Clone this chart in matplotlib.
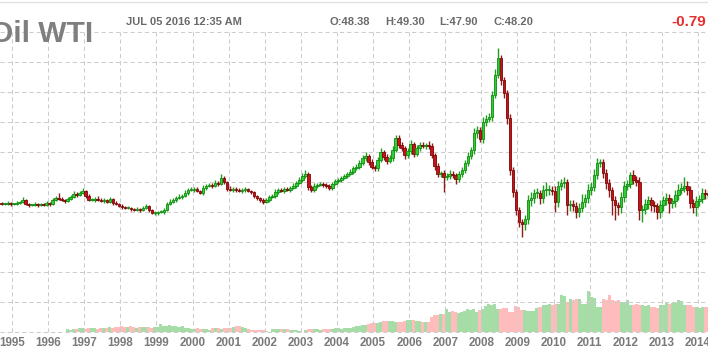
import matplotlib
matplotlib.use("Agg")
import matplotlib.pyplot as plt
from matplotlib.lines import Line2D
from matplotlib.transforms import blended_transform_factory
import numpy as np

plt.rcParams['font.family'] = ['Liberation Sans', 'DejaVu Sans']
plt.rcParams['lines.scale_dashes'] = False

# ---------------- data ----------------
title = "Oil WTI"
stamp = "JUL 05 2016 12:35 AM"
quote_labels = ["O:48.38", "H:49.30", "L:47.90", "C:48.20"]
change_label = "-0.79"
years = list(range(1995, 2015))
first_month = (1994, 9)       # first monthly candle: Sep 1994
first_open = 129

# monthly closes (chart units)
close = [
    128, 128, 129, 128, 128, 129, 130, 132, 128, 127,
    127, 128, 127, 128, 127, 129, 128, 132, 134, 133,
    132, 131, 133, 135, 138, 137, 139, 141, 136, 132,
    132, 133, 132, 131, 132, 130, 133, 129, 128, 126,
    125, 124, 124, 123, 122, 123, 122, 124, 126, 122,
    119, 119, 120, 120, 122, 128, 130, 132, 134, 135,
    136, 139, 142, 142, 143, 141, 139, 144, 146, 147,
    146, 149, 148, 154, 150, 143, 142, 143, 142, 141,
    142, 143, 141, 140, 136, 134, 132, 130, 132, 135,
    136, 140, 142, 141, 143, 142, 144, 146, 149, 152,
    156, 158, 145, 142, 146, 147, 148, 147, 146, 144,
    148, 151, 152, 154, 156, 158, 160, 164, 165, 169,
    174, 176, 170, 165, 164, 172, 180, 175, 171, 174,
    182, 194, 187, 184, 177, 181, 188, 178, 184, 187,
    186, 187, 186, 177, 166, 158, 159, 155, 156, 158,
    157, 153, 158, 162, 169, 176, 182, 199, 202, 193,
    210, 213, 215, 237, 257, 274, 252, 239, 214, 162,
    140, 122, 110, 108, 113, 132, 134, 139, 139, 134,
    142, 142, 142, 141, 130, 146, 149, 150, 127, 128,
    126, 120, 124, 130, 134, 142, 145, 157, 169, 170,
    159, 149, 142, 132, 127, 125, 135, 146, 148, 157,
    152, 150, 122, 123, 128, 132, 127, 126, 120, 127,
    132, 134, 129, 131, 137, 142, 144, 146, 142, 129,
    125, 131, 133, 139, 138, 137,
]

# upper / lower shadow lengths (chart units)
wick_up = [
    1, 1, 2, 1, 1, 2, 1, 3, 1, 1,
    1, 2, 1, 1, 1, 2, 1, 2, 2, 5,
    2, 1, 2, 2, 3, 2, 2, 3, 1, 2,
    2, 2, 3, 2, 2, 1, 2, 1, 2, 1,
    2, 1, 2, 1, 1, 2, 1, 2, 2, 1,
    1, 2, 1, 2, 2, 2, 3, 2, 2, 3,
    2, 3, 2, 3, 2, 2, 1, 3, 2, 2,
    2, 3, 2, 4, 2, 1, 3, 2, 2, 2,
    2, 2, 1, 1, 1, 1, 1, 2, 2, 2,
    2, 3, 2, 2, 2, 2, 2, 3, 2, 3,
    3, 4, 2, 2, 3, 2, 2, 2, 2, 2,
    2, 2, 2, 2, 2, 2, 3, 2, 3, 3,
    3, 4, 2, 3, 2, 3, 4, 2, 3, 3,
    4, 3, 3, 3, 2, 3, 4, 2, 3, 3,
    3, 2, 4, 3, 2, 3, 2, 3, 3, 4,
    3, 2, 3, 3, 3, 4, 3, 5, 4, 3,
    5, 4, 4, 4, 6, 10, 3, 3, 3, 4,
    3, 3, 3, 3, 4, 5, 6, 4, 5, 3,
    5, 8, 5, 4, 5, 5, 4, 5, 3, 4,
    4, 4, 5, 8, 4, 6, 5, 6, 5, 3,
    3, 4, 4, 3, 4, 3, 5, 5, 4, 3,
    5, 4, 5, 4, 5, 4, 3, 4, 3, 5,
    4, 5, 4, 3, 5, 6, 5, 9, 5, 4,
    4, 5, 4, 5, 4, 4,
]
wick_dn = [
    1, 1, 1, 2, 1, 1, 1, 1, 1, 2,
    1, 1, 2, 1, 1, 1, 2, 1, 1, 1,
    1, 2, 1, 1, 1, 2, 1, 1, 2, 1,
    1, 2, 1, 1, 2, 1, 1, 2, 1, 1,
    2, 1, 1, 2, 1, 1, 2, 1, 1, 2,
    1, 2, 2, 1, 2, 1, 1, 1, 2, 1,
    2, 1, 2, 1, 2, 1, 1, 2, 2, 1,
    2, 1, 2, 1, 2, 2, 1, 2, 2, 1,
    2, 2, 1, 2, 2, 2, 2, 2, 1, 2,
    1, 2, 2, 1, 2, 1, 2, 1, 2, 1,
    2, 2, 3, 2, 2, 2, 1, 2, 2, 2,
    2, 1, 2, 2, 1, 2, 1, 2, 2, 2,
    2, 3, 3, 2, 3, 3, 2, 3, 3, 2,
    3, 2, 3, 3, 4, 3, 3, 3, 2, 3,
    2, 3, 3, 3, 4, 3, 3, 15, 3, 3,
    3, 5, 3, 3, 3, 3, 3, 4, 5, 3,
    4, 4, 3, 4, 3, 3, 5, 5, 6, 5,
    5, 5, 5, 13, 6, 5, 6, 5, 5, 6,
    5, 6, 5, 4, 10, 5, 4, 5, 10, 6,
    5, 6, 5, 4, 5, 5, 5, 4, 4, 4,
    5, 6, 7, 15, 15, 8, 6, 5, 4, 4,
    4, 4, 10, 12, 5, 5, 6, 6, 7, 6,
    6, 5, 10, 5, 6, 5, 4, 4, 5, 5,
    6, 9, 5, 4, 5, 4,
]

# monthly volume (relative units)
volume = [
    0, 0, 0, 0, 0, 0, 0, 0, 0, 0,
    0, 0, 0, 0, 0, 0, 0, 0, 0, 0,
    0, 0, 3, 2, 3, 3, 4, 4, 3, 4,
    4, 4, 3, 4, 4, 4, 5, 4, 5, 5,
    6, 5, 5, 6, 5, 4, 5, 5, 5, 5,
    4, 5, 5, 8, 6, 6, 7, 6, 6, 5,
    6, 4, 4, 3, 3, 4, 3, 3, 3, 2,
    4, 4, 4, 3, 4, 4, 4, 5, 6, 6,
    5, 4, 3, 2, 2, 2, 2, 2, 1, 0,
    3, 3, 3, 3, 3, 3, 2, 2, 2, 1,
    0, 2, 3, 3, 3, 3, 2, 3, 3, 3,
    3, 4, 4, 3, 4, 4, 4, 5, 6, 6,
    7, 7, 8, 9, 9, 9, 10, 11, 11, 11,
    11, 10, 10, 10, 11, 12, 12, 12, 11, 11,
    10, 10, 10, 15, 17, 17, 18, 18, 23, 20,
    21, 20, 19, 20, 21, 23, 22, 23, 20, 22,
    23, 26, 28, 27, 28, 23, 23, 24, 24, 20,
    20, 26, 25, 22, 22, 21, 21, 21, 24, 25,
    27, 27, 28, 27, 28, 28, 37, 36, 30, 33,
    32, 33, 33, 28, 28, 41, 35, 34, 25, 25,
    33, 32, 37, 32, 31, 32, 30, 30, 32, 27,
    27, 28, 27, 27, 26, 27, 25, 25, 24, 27,
    27, 29, 28, 29, 29, 32, 31, 27, 27, 27,
    25, 25, 24, 25, 25, 25,
]

# ---------------- derived ----------------
close = np.array(close, float)
n = len(close)
opens = np.concatenate([[first_open], close[:-1]])
wu = np.array(wick_up[:n], float)
wd = np.array(wick_dn[:n], float)
vol = np.array(volume[:n], float)
idx = np.arange(n)
up = close >= opens
top = np.maximum(opens, close)
bot = np.minimum(opens, close)
highs = top + wu
lows = bot - wd
body_h = np.maximum(top - bot, 1.5)

UP_BODY, UP_EDGE = '#2fcf2f', '#138a13'
DN_BODY, DN_EDGE = '#cc1018', '#7a0808'
UP_WICK, DN_WICK = '#1f9e1f', '#8e1a1a'
UP_VOL, DN_VOL = '#a6dca6', '#ffbcbc'
GRID = '#cccccc'

W, H = 708, 354
fig = plt.figure(figsize=(W / 100, H / 100), dpi=100)
fig.patch.set_facecolor('white')

# axes spanning pixel rows 30..334
rect = [0, 1 - 334 / H, 1, 304 / H]
axv = fig.add_axes(rect)
ax = fig.add_axes(rect)
px_per_month = 36.1 / 12
xlim = (-0.5, -0.5 + W / px_per_month)
for a in (axv, ax):
    a.set_xlim(*xlim)
    a.set_ylim(-2, 302)
    a.axis('off')
ax.patch.set_alpha(0)

# volume
axv.bar(idx, vol, width=1.0, bottom=0,
        color=np.where(up, UP_VOL, DN_VOL), linewidth=0, zorder=1)

# grid
dash = (0, (3, 2.2))
for gv in range(0, 301, 30):
    ax.plot(xlim, [gv, gv], color=GRID, lw=0.75, ls=dash, zorder=1)
year_pos = [3.5 + 12 * (y - 1995) for y in years]
for xp in year_pos:
    ax.plot([xp, xp], [0, 300], color=GRID, lw=0.75, ls=dash, zorder=1)

# candles
ax.vlines(idx, lows, highs, colors=np.where(up, UP_WICK, DN_WICK),
          linewidth=1.0, zorder=3)
ax.bar(idx, body_h, bottom=bot, width=0.85,
       color=np.where(up, UP_BODY, DN_BODY),
       edgecolor=np.where(up, UP_EDGE, DN_EDGE), linewidth=0.6, zorder=4)

# year labels
tr = blended_transform_factory(ax.transData, fig.transFigure)
for y, xp in zip(years, year_pos):
    ax.text(xp, 1 - 346.5 / H, str(y), transform=tr, ha='center',
            va='baseline', fontsize=8.4, fontweight='bold', color='#7a7a7a',
            clip_on=False)

# header
fig.add_artist(Line2D([0, 1], [1 - 1.5 / H, 1 - 1.5 / H], color='#e2e2e2', lw=1))
fig.text(-10 / W, 1 - 41.7 / H, title, ha='left', va='baseline',
         fontsize=21.5, fontweight='bold', color='#7f7f7f')
fig.text(126 / W, 1 - 25 / H, stamp, ha='left', va='baseline',
         fontsize=8, fontweight='bold', color='#6a6a6a')
for lab, xl in zip(quote_labels, [329, 385, 439, 493]):
    fig.text(xl / W, 1 - 25 / H, lab, ha='left', va='baseline',
             fontsize=8, fontweight='bold', color='#6a6a6a')
fig.text(706 / W, 1 - 26 / H, change_label, ha='right', va='baseline',
         fontsize=11, fontweight='bold', color='#e5302f')

fig.savefig('out.png', dpi=100)
